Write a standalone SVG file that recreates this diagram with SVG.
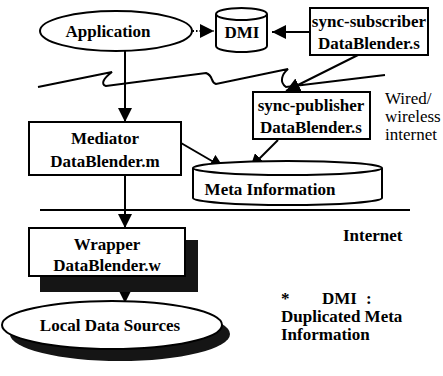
<svg xmlns="http://www.w3.org/2000/svg" width="443" height="376" viewBox="0 0 443 376">
<style>
.t{font-family:"Liberation Serif","DejaVu Serif","Noto Serif",serif;font-weight:bold;font-size:17px;text-anchor:middle;fill:#000}
.l{text-anchor:start}
.r{font-weight:normal}
.s{fill:#fff;stroke:#000;stroke-width:2}
.c{fill:none;stroke:#000;stroke-width:2}
.sh{fill:#151515}
</style>
<defs>
<marker id="ah" viewBox="0 0 10 10" refX="10" refY="5" markerWidth="14" markerHeight="14" markerUnits="userSpaceOnUse" orient="auto">
<path d="M0,0 L10,5 L0,10 z" fill="#000"/>
</marker>
</defs>
<rect width="443" height="376" fill="#fff"/>

<g id="connectors">
<path class="c" d="M182,31 L214,31" stroke-dasharray="1.5,2" marker-end="url(#ah)"/>
<path class="c" d="M309,32 L272,32" marker-end="url(#ah)"/>
<path class="c" d="M38,87 L112,72 C104,78 100,84 106,86 L206,73 C214,76 210,82 216,84 L288,69 C282,74 279,82 286,87 L385,75"/>
<path class="c" d="M358,55 L286,91" marker-end="url(#ah)"/>
<path class="c" d="M125,51 L125,122" marker-end="url(#ah)"/>
<path class="c" d="M181,143 L224,168" marker-end="url(#ah)"/>
<path class="c" d="M278,140 L250,168" marker-end="url(#ah)"/>
<path class="c" d="M40,210 L410,210"/>
<path class="c" d="M125,175 L125,228" marker-end="url(#ah)"/>
<path class="c" d="M125,292 L125,303" marker-end="url(#ah)"/>
</g>

<g id="application">
<ellipse class="s" cx="116" cy="31" rx="76" ry="20"/>
<text class="t" x="108" y="37">Application</text>
</g>

<g id="dmi">
<path class="s" d="M216,14 L216,46 A25.5,6 0 0 0 267,46 L267,14 A25.5,6 0 0 0 216,14 A25.5,6 0 0 0 267,14"/>
<text class="t" x="242" y="38">DMI</text>
</g>

<g id="sync-subscriber">
<rect class="s" x="310" y="8" width="118" height="47"/>
<text class="t" x="369" y="27">sync-subscriber</text>
<text class="t" x="369" y="49">DataBlender.s</text>
</g>

<g id="sync-publisher">
<rect class="s" x="253" y="92" width="117" height="47"/>
<text class="t" x="311" y="111">sync-publisher</text>
<text class="t" x="311" y="133">DataBlender.s</text>
</g>

<g id="wired-label">
<text class="t l r" x="385" y="104">Wired/</text>
<text class="t l r" x="385" y="122">wireless</text>
<text class="t l r" x="385" y="140">internet</text>
</g>

<g id="mediator">
<rect class="s" x="29" y="122" width="152" height="53"/>
<text class="t" x="105" y="144">Mediator</text>
<text class="t" x="105" y="167">DataBlender.m</text>
</g>

<g id="meta-information">
<path class="s" d="M193,168 L193,198 A94.5,7 0 0 0 382,198 L382,168 A94.5,7 0 0 0 193,168 A94.5,7 0 0 0 382,168"/>
<text class="t" x="270" y="195">Meta Information</text>
</g>

<g id="internet-label">
<text class="t l" x="343" y="241">Internet</text>
</g>

<g id="wrapper">
<rect class="sh" x="40" y="240" width="158" height="52"/>
<rect class="s" x="29" y="228" width="156" height="48"/>
<text class="t" x="107" y="250">Wrapper</text>
<text class="t" x="107" y="271">DataBlender.w</text>
</g>

<g id="local-data-sources">
<ellipse class="sh" cx="120" cy="334" rx="110" ry="27"/>
<ellipse class="s" cx="112" cy="325" rx="110" ry="24"/>
<text class="t" x="110" y="331">Local Data Sources</text>
</g>

<g id="footnote">
<text class="t l" x="281" y="304">*</text>
<text class="t l" x="322" y="304">DMI</text>
<text class="t l" x="366" y="304">:</text>
<text class="t l" x="281" y="322">Duplicated Meta</text>
<text class="t l" x="281" y="340">Information</text>
</g>
</svg>
